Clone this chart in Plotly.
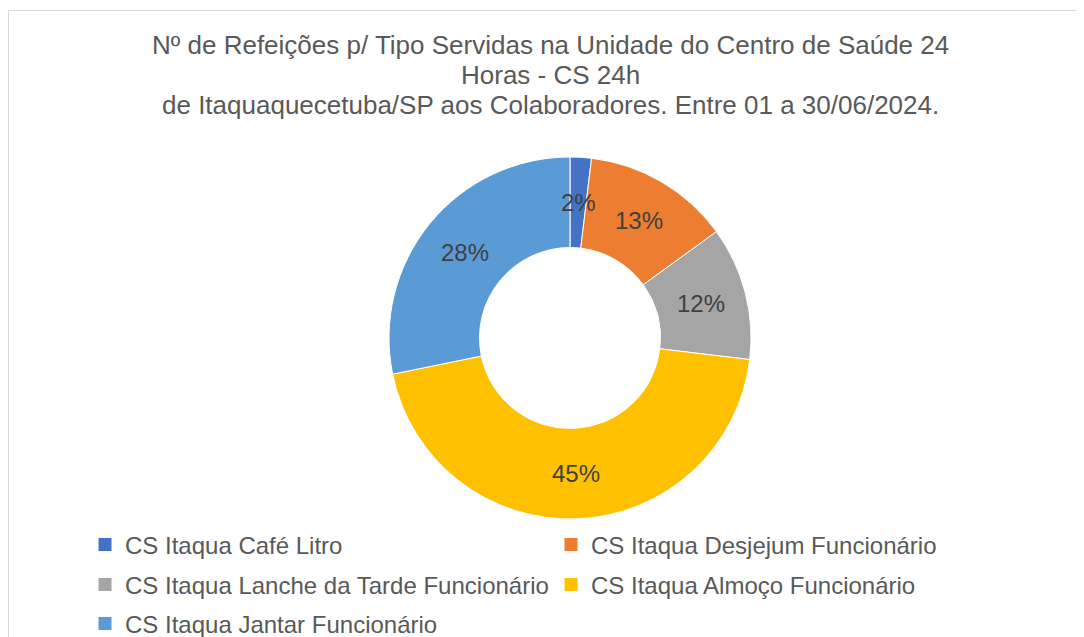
import numpy as np
import plotly.graph_objects as go

W, H = 1084, 637
PAD = 8  # the html page adds an 8px body margin around the figure

# Meal types and their share (read from the donut)
categories = [
    'CS Itaqua Café Litro',
    'CS Itaqua Desjejum Funcionário',
    'CS Itaqua Lanche da Tarde Funcionário',
    'CS Itaqua Almoço Funcionário',
    'CS Itaqua Jantar Funcionário',
]
values = [1.9, 13.1, 11.9, 44.9, 28.2]
colors = ['#4472C4', '#ED7D31', '#A5A5A5', '#FFC000', '#5B9BD5']

title_lines = [
    'Nº de Refeições p/ Tipo Servidas na Unidade do Centro de Saúde 24',
    'Horas - CS 24h',
    'de Itaquaquecetuba/SP aos Colaboradores. Entre 01 a 30/06/2024.',
]

font = 'Liberation Sans, Arial, sans-serif'


def px(x):
    return (x - PAD) / W


def py(y):
    return 1 - (y - PAD) / H


# donut geometry in page pixels
cx, cy, r_out, hole = 570, 338, 181, 0.5

fig = go.Figure()
fig.add_trace(go.Pie(
    labels=categories,
    values=values,
    hole=hole,
    sort=False,
    direction='clockwise',
    rotation=0,
    marker=dict(colors=colors, line=dict(color='white', width=1)),
    textinfo='none',
    hoverinfo='label+percent',
    showlegend=False,
    domain=dict(x=[px(cx - r_out), px(cx + r_out)],
                y=[py(cy + r_out), py(cy - r_out)]),
))

# percent labels at the middle of each ring segment
total = sum(values)
r_mid = r_out * (1 + hole) / 2
cum = 0
for v in values:
    ang = 2 * np.pi * (cum + v / 2) / total
    cum += v
    fig.add_annotation(
        x=px(cx + r_mid * np.sin(ang)),
        y=py(cy - r_mid * np.cos(ang)),
        xref='paper', yref='paper', showarrow=False,
        xanchor='center', yanchor='middle',
        text=f'{round(v / total * 100)}%',
        font=dict(family=font, size=24, color='#404040'),
    )

# title, one annotation per line to keep the tight line spacing
for i, line in enumerate(title_lines):
    fig.add_annotation(
        x=0.5, y=py(45 + 30 * i), xref='paper', yref='paper',
        xanchor='center', yanchor='middle', showarrow=False, text=line,
        font=dict(family=font, size=26, color='#595959'),
    )

# legend: one entry per legend box, two columns like the original
col_x = [125, 591]
row_y = [545, 585, 624]
layout_legends = {}
for i, (name, c) in enumerate(zip(categories, colors)):
    key = 'legend' if i == 0 else f'legend{i + 1}'
    fig.add_trace(go.Scatter(
        x=[None], y=[None], mode='markers', name=name,
        marker=dict(symbol='square', size=13, color=c),
        legend=key, hoverinfo='skip',
    ))
    layout_legends[key] = dict(
        x=px(col_x[i % 2] - 40), xanchor='left',
        y=py(row_y[i // 2]), yanchor='middle',
        font=dict(family=font, size=24, color='#595959'),
        bgcolor='rgba(0,0,0,0)',
        itemwidth=30,
    )

# chart area border
fig.add_shape(type='rect', xref='paper', yref='paper',
              x0=px(8.5), x1=1.01, y0=-0.01, y1=py(10.5),
              line=dict(color='#D9D9D9', width=1))

fig.update_layout(
    width=W, height=H,
    margin=dict(l=0, r=0, t=0, b=0, autoexpand=False),
    paper_bgcolor='white',
    plot_bgcolor='white',
    xaxis=dict(visible=False),
    yaxis=dict(visible=False),
    **layout_legends,
)

fig.write_html('out.html')
